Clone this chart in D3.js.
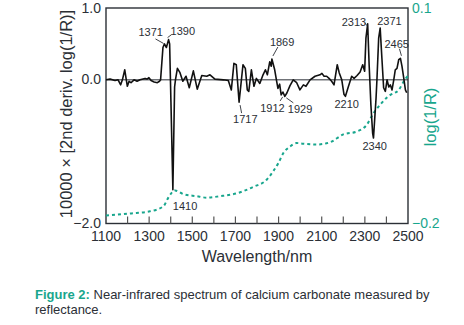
<!DOCTYPE html>
<html>
<head>
<meta charset="utf-8">
<title>NIR spectrum calcium carbonate</title>
<script src="https://cdn.jsdelivr.net/npm/d3@7"></script>
<style>
  body { margin: 0; background: #fff; }
  svg text { font-family: "Liberation Sans", Arial, sans-serif; }
</style>
</head>
<body>
<div id="chart"></div>
<script>
// 2nd derivative spectrum (wavelength nm, value)
var derivWl = [1100,1119,1142,1156,1168,1176,1187,1193,1199,1207,1216,1230,1244,1258,1281,1290,1299,1309,1323,1338,1348,1353,
  1364,1371,1380,1390,1395,1401,1410,1418,1422,1431,1443,1456,1471,1486,1505,1523,1544,1567,1582,1605,1644,1667,
  1681,1693,1704,1717,1735,1746,1755,1762,1774,1786,1797,1813,1828,1839,1848,1859,1866,1869,1882,1890,1897,1905,
  1912,1920,1929,1939,1953,1968,1984,1999,2015,2027,2046,2069,2092,2101,2111,2123,2134,2146,2157,2172,2181,2193,
  2203,2210,2223,2239,2250,2264,2278,2290,2299,2305,2313,2320,2328,2336,2340,2352,2356,2364,2371,2379,2387,2395,
  2403,2411,2418,2426,2434,2441,2449,2457,2465,2472,2480,2488,2494];
var derivVal = [0,0.01,-0.01,0,-0.07,0,0.14,0.02,-0.09,-0.02,-0.04,0,-0.02,0,0.02,0.01,0.03,-0.01,-0.03,-0.04,-0.02,0,
  0.45,0.5,0.45,0.56,0.5,-0.3,-1.53,-0.1,0,0.16,0.1,-0.02,0.05,-0.11,0.125,-0.13,0.06,0.05,0.07,0.01,0,-0.01,
  -0.14,0.23,0.21,-0.31,0.21,0.16,-0.14,-0.16,0.14,-0.09,0.02,-0.05,0.07,0.14,0.07,0.25,0.19,0.29,0.14,0,-0.12,-0.06,
  -0.21,-0.17,-0.23,-0.18,-0.08,0,-0.04,-0.14,-0.07,-0.09,0,0.05,0.07,0.09,0.05,0.05,0.02,-0.02,-0.07,0.21,0.1,0,
  -0.2,-0.23,-0.1,0.05,0.02,0.06,0.11,0.21,0.12,0.58,0.78,0.2,-0.35,-0.74,-0.81,-0.25,0,0.58,0.72,0.3,-0.11,-0.16,
  0,-0.1,-0.07,-0.14,0,0.14,0.16,0.28,0.3,0.19,0.03,-0.14,-0.18];

// log(1/R) spectrum (right axis)
var logWl = [1100,1211,1304,1366,1389,1405,1420,1458,1520,1567,1628,1706,1783,1845,1876,1899,1922,1953,1984,2015,
  2077,2138,2200,2262,2309,2339,2370,2401,2418,2457,2485,2500];
var logVal = [-0.189,-0.186,-0.183,-0.176,-0.164,-0.157,-0.154,-0.159,-0.162,-0.164,-0.162,-0.158,-0.149,-0.139,-0.127,
  -0.116,-0.102,-0.093,-0.088,-0.089,-0.090,-0.087,-0.076,-0.072,-0.0625,-0.047,-0.035,-0.025,-0.021,-0.014,0.0,0.0056];

// annotated bands
var peakLabels = ["1371","1390","1410","1717","1869","1912","1929","2210","2313","2340","2371","2465"];

var xTicks = [1100,1300,1500,1700,1900,2100,2300,2500];
var xMinor = [1200,1300,1400,1500,1600,1700,1800,1900,2000,2100,2200,2300,2400];
var leftTicks = [1.0, 0.0, -2.0];
var rightTicks = [0.1, -0.2];

var teal = "#18a68d";
var ink = "#2b2f36";

var W = 464, H = 325;
var svg = d3.select("#chart").append("svg").attr("width", W).attr("height", H);

var x = d3.scaleLinear().domain([1100, 2500]).range([106, 408]);
var yL = d3.scaleLinear().domain([-2, 1]).range([223.5, 8]);
var yR = d3.scaleLinear().domain([-0.2, 0.1]).range([223.5, 8]);

// label placement relative to band point: [dx, dy, leader x1,y1,x2,y2 relative] (layout only)
var labelLayout = {
  "1371": [-26, -8, -9, -5, -1, -0.5],
  "1390": [2, -4.5, -1, -2, 3, -5],
  "1410": [0, 20, null],
  "1717": [-6, 21, 1, 3, 2.5, 11],
  "1869": [-2, -13, 1, -3, 6, -12],
  "1912": [-21, 17, 1.5, 2, -1, 6],
  "1929": [3, 16.5, 1.5, 1.5, 8.5, 6.5],
  "2210": [-11, 12, null],
  "2313": [-26, 2, -3, -1, -0.5, 2],
  "2340": [-11, 12, null],
  "2371": [-3, -3, null],
  "2465": [-16, -10, -1, -9.5, 1, -2.5]
};

// frame
svg.append("rect")
  .attr("x", x(1100)).attr("y", yL(1))
  .attr("width", x(2500) - x(1100)).attr("height", yL(-2) - yL(1))
  .attr("fill", "none").attr("stroke", ink).attr("stroke-width", 1.4);

// inner x ticks
svg.append("g").selectAll("line").data(xMinor).enter().append("line")
  .attr("x1", d => x(d)).attr("x2", d => x(d))
  .attr("y1", yL(-2)).attr("y2", yL(-2) - 7)
  .attr("stroke", "#555").attr("stroke-width", 1.2);

// zero line
svg.append("line")
  .attr("x1", x(1100)).attr("x2", x(2500))
  .attr("y1", yL(0)).attr("y2", yL(0))
  .attr("stroke", ink).attr("stroke-width", 1);

// x tick labels
svg.append("g").selectAll("text").data(xTicks).enter().append("text")
  .attr("x", d => x(d)).attr("y", 241)
  .attr("text-anchor", "middle").attr("font-size", 14).attr("fill", ink)
  .text(d => d);

// left tick labels
svg.append("g").selectAll("text").data(leftTicks).enter().append("text")
  .attr("x", 101).attr("y", d => yL(d)).attr("dy", "0.33em")
  .attr("text-anchor", "end").attr("font-size", 14).attr("fill", ink)
  .text(d => d3.format(".1f")(d).replace("-", "\u2212"));

// right tick labels
svg.append("g").selectAll("text").data(rightTicks).enter().append("text")
  .attr("x", 412).attr("y", d => yR(d)).attr("dy", "0.33em")
  .attr("text-anchor", "start").attr("font-size", 14).attr("fill", teal)
  .text(d => d3.format(".1f")(d).replace("-", "\u2212"));

// axis titles
svg.append("text")
  .attr("transform", "translate(72,114) rotate(-90)")
  .attr("text-anchor", "middle").attr("font-size", 16.5).attr("fill", ink)
  .text("10000 \u00d7 [2nd deriv. log(1/R)]");

svg.append("text")
  .attr("transform", "translate(436,117) rotate(-90)")
  .attr("text-anchor", "middle").attr("font-size", 16.5).attr("fill", teal)
  .text("log(1/R)");

svg.append("text")
  .attr("x", 257).attr("y", 262)
  .attr("text-anchor", "middle").attr("font-size", 16).attr("fill", ink)
  .text("Wavelength/nm");

// log(1/R) dashed curve
var logData = logWl.map((w, i) => [w, logVal[i]]);
svg.append("path")
  .datum(logData)
  .attr("fill", "none").attr("stroke", teal).attr("stroke-width", 2)
  .attr("stroke-dasharray", "3,3")
  .attr("d", d3.line().x(d => x(d[0])).y(d => yR(d[1])).curve(d3.curveMonotoneX));

// 2nd derivative curve
var derivData = derivWl.map((w, i) => [w, derivVal[i]]);
svg.append("path")
  .datum(derivData)
  .attr("fill", "none").attr("stroke", "#111").attr("stroke-width", 1.6)
  .attr("stroke-linejoin", "round")
  .attr("d", d3.line().x(d => x(d[0])).y(d => yL(d[1])));

// band labels
var ann = svg.append("g");
peakLabels.forEach(function(lab) {
  var w = +lab;
  var i = derivWl.indexOf(w);
  var px = x(w), py = yL(derivVal[i]);
  var l = labelLayout[lab];
  ann.append("text")
    .attr("x", px + l[0]).attr("y", py + l[1])
    .attr("font-size", 11).attr("fill", ink)
    .text(lab);
  if (l[2] !== null && l[2] !== undefined) {
    ann.append("line")
      .attr("x1", px + l[2]).attr("y1", py + l[3])
      .attr("x2", px + l[4]).attr("y2", py + l[5])
      .attr("stroke", ink).attr("stroke-width", 0.9);
  }
});

// caption
var cap = svg.append("text").attr("x", 35).attr("y", 299).attr("font-size", 13).attr("fill", ink);
cap.append("tspan").attr("font-weight", "bold").attr("fill", teal).text("Figure 2:");
cap.append("tspan").text(" Near-infrared spectrum of calcium carbonate measured by");
svg.append("text").attr("x", 35).attr("y", 314).attr("font-size", 13).attr("fill", ink)
  .text("reflectance.");
</script>
</body>
</html>
